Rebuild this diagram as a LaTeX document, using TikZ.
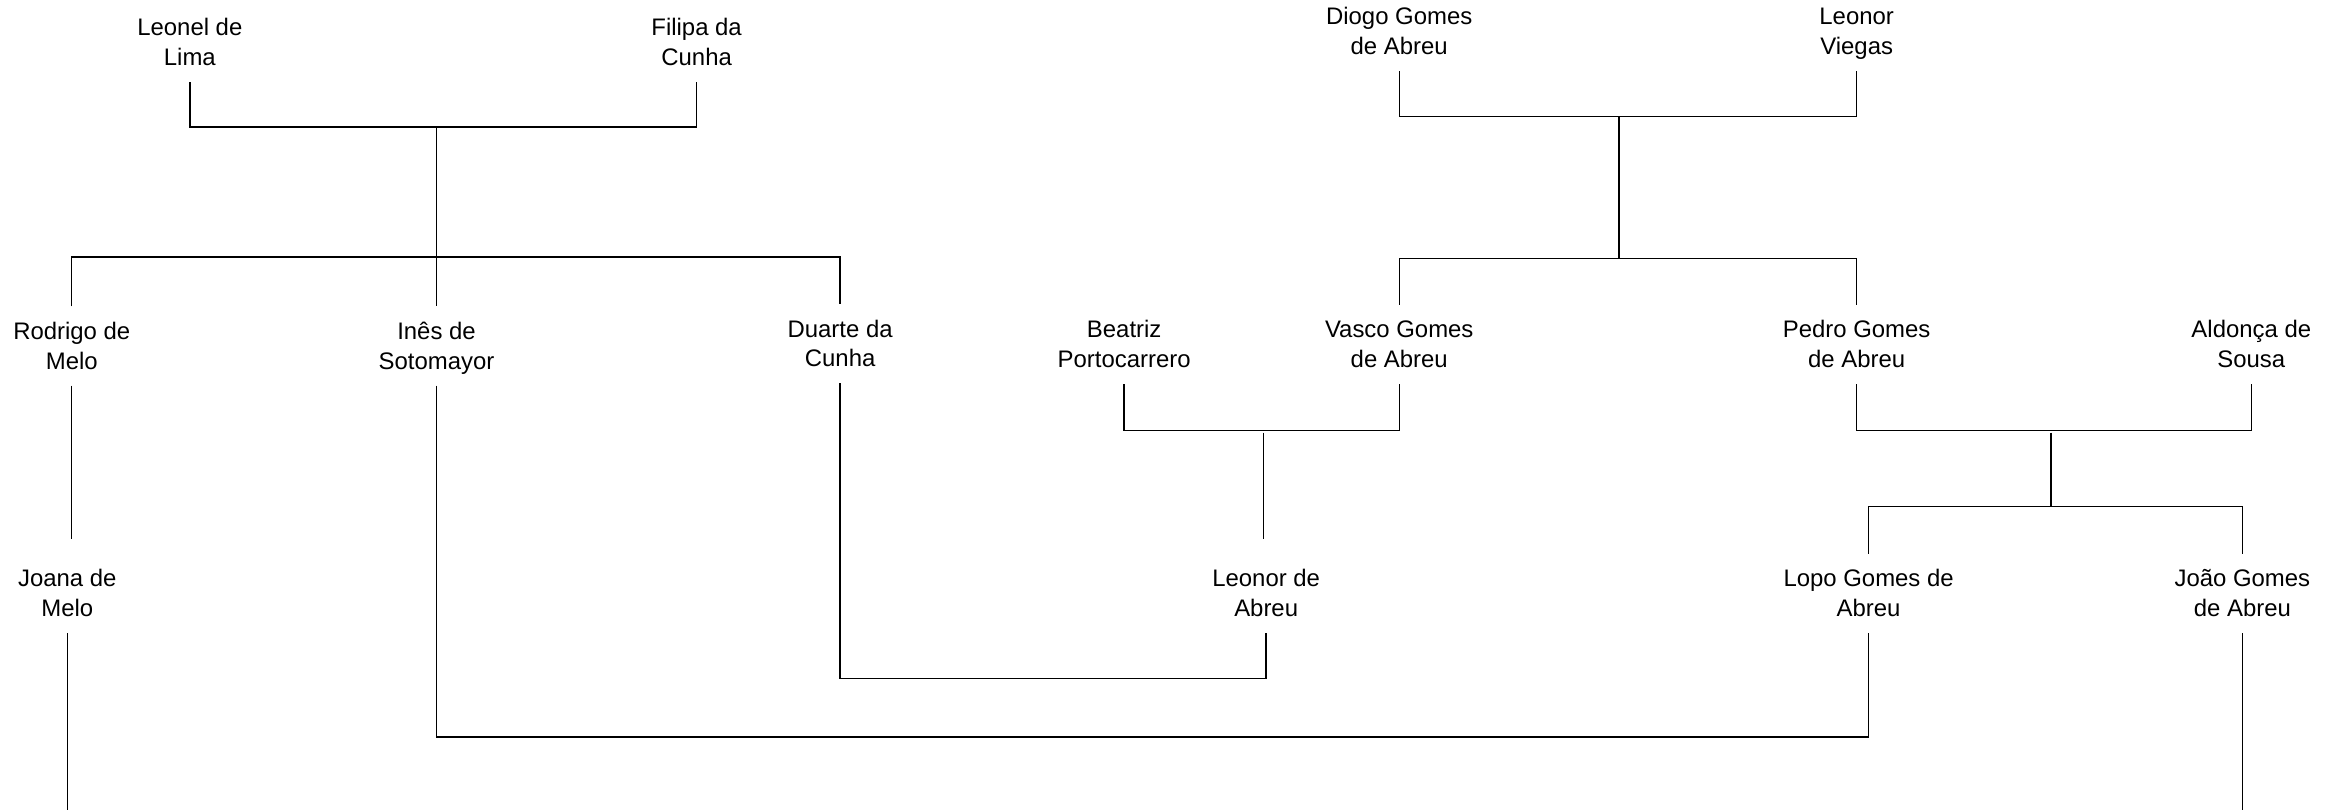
\documentclass[tikz,border=0pt]{standalone}
\usepackage{fontspec}
\setmainfont{Liberation Sans}
\newcommand{\linestrut}{\rule[-3.4pt]{0pt}{15pt}}
\newcommand{\twoline}[2]{\linestrut#1\\\linestrut#2}
\begin{document}
\begin{tikzpicture}[x=0.75pt,y=-0.75pt,
  person/.style={align=center,inner sep=0pt,outer sep=0pt,minimum height=39.75pt,font=\fontsize{12}{15}\selectfont},
  link/.style={line width=0.7pt,line join=miter}]
\useasboundingbox (0,0) rectangle (1568,542);
% generation 1
\node[person] (leonel) at (127,28.5) {\twoline{Leonel de}{Lima}};
\node[person] (filipa) at (466,28.5) {\twoline{Filipa da}{Cunha}};
\node[person] (diogo) at (936,21) {\twoline{Diogo Gomes}{de Abreu}};
\node[person] (viegas) at (1242,21) {\twoline{Leonor}{Viegas}};
% generation 2
\node[person] (rodrigo) at (48,231.5) {\twoline{Rodrigo de}{Melo}};
\node[person] (ines) at (292,231.5) {\twoline{Inês de}{Sotomayor}};
\node[person] (duarte) at (562,230) {\twoline{Duarte da}{Cunha}};
\node[person] (beatriz) at (752,230.5) {\twoline{Beatriz}{Portocarrero}};
\node[person] (vasco) at (936,230.5) {\twoline{Vasco Gomes}{de Abreu}};
\node[person] (pedro) at (1242,230.5) {\twoline{Pedro Gomes}{de Abreu}};
\node[person] (aldonca) at (1506,230.5) {\twoline{Aldonça de}{Sousa}};
% generation 3
\node[person] (joana) at (45,397) {\twoline{Joana de}{Melo}};
\node[person] (leonorA) at (847,397) {\twoline{Leonor de}{Abreu}};
\node[person] (lopo) at (1250,397) {\twoline{Lopo Gomes de}{Abreu}};
\node[person] (joao) at (1500,397) {\twoline{João Gomes}{de Abreu}};
% junction coordinates
\coordinate (m1) at (292,85);
\coordinate (b1) at (292,172);
\coordinate (m2) at (1083,78);
\coordinate (b2) at (1083,173);
\coordinate (m3) at (845,288);
\coordinate (m4) at (1372,288);
\coordinate (b4) at (1372,339);
\coordinate (w1) at (292,493);
\coordinate (w2) at (562,454);
\coordinate (e1) at (45,542);
\coordinate (e2) at (1500,542);
% Leonel + Filipa
\draw[link] (leonel.south) |- (m1) -| (filipa.south);
\draw[link] (m1) -- (ines.north);
\draw[link] (rodrigo.north) |- (b1) -| (duarte.north);
% Diogo + Leonor Viegas
\draw[link] (diogo.south) |- (m2) -| (viegas.south);
\draw[link] (m2) -- (b2);
\draw[link] (vasco.north) |- (b2) -| (pedro.north);
% Beatriz + Vasco
\draw[link] (beatriz.south) |- (m3) -| (vasco.south);
\draw[link] ([yshift=-1pt]m3) -- ([yshift=7.5pt]m3 |- leonorA.north);
% Pedro + Aldonca
\draw[link] (pedro.south) |- (m4) -| (aldonca.south);
\draw[link] ([yshift=-1pt]m4) -- (b4);
\draw[link] (lopo.north) |- (b4) -| (joao.north);
% Rodrigo -> Joana
\draw[link] (rodrigo.south) -- ([yshift=7.5pt]rodrigo.south |- joana.north);
\draw[link] (joana.south) -- (e1);
% Ines + Lopo
\draw[link] (ines.south) -- (w1) -| (lopo.south);
% Duarte + Leonor de Abreu
\draw[link] (duarte.south) -- (w2) -| (leonorA.south);
% Joao
\draw[link] (joao.south) -- (e2);
\end{tikzpicture}
\end{document}
